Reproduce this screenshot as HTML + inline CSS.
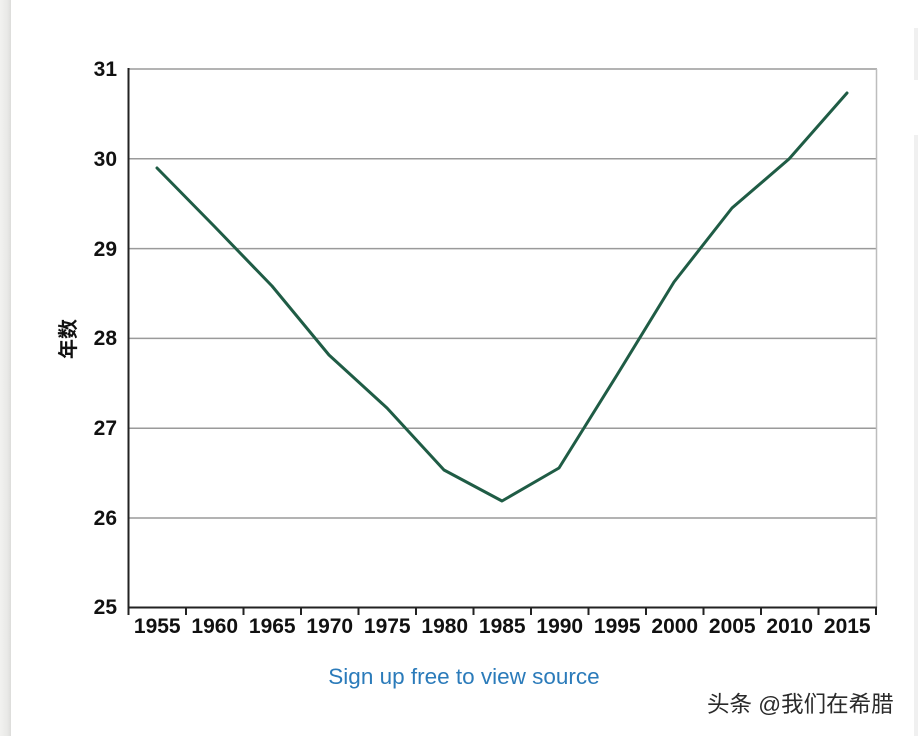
<!DOCTYPE html>
<html><head><meta charset="utf-8"><style>
html,body{margin:0;padding:0;background:#fff;}
body{width:918px;height:736px;overflow:hidden;position:relative;}
svg{position:absolute;left:0;top:0;}
</style></head><body>
<svg width="918" height="736" viewBox="0 0 918 736" xmlns="http://www.w3.org/2000/svg">
<defs>
<linearGradient id="lg" x1="0" x2="1" y1="0" y2="0">
<stop offset="0" stop-color="#f2f2f0"/><stop offset="0.7" stop-color="#e8e8e6"/><stop offset="1" stop-color="#dcdcda"/>
</linearGradient>
</defs>
<rect x="0" y="0" width="918" height="736" fill="#fff"/>
<rect x="0" y="0" width="11" height="736" fill="url(#lg)"/>
<rect x="914" y="28" width="4" height="52" fill="#f0f0f0"/>
<rect x="914" y="135" width="4" height="601" fill="#f0f0f0"/>
<!-- gridlines -->
<g stroke="#9a9a9a" stroke-width="1.5">
<line x1="128" y1="69" x2="877" y2="69"/>
<line x1="128" y1="158.8" x2="877" y2="158.8"/>
<line x1="128" y1="248.6" x2="877" y2="248.6"/>
<line x1="128" y1="338.4" x2="877" y2="338.4"/>
<line x1="128" y1="428.2" x2="877" y2="428.2"/>
<line x1="128" y1="518" x2="877" y2="518"/>
</g>
<line x1="876.5" y1="69" x2="876.5" y2="608" stroke="#bdbdbd" stroke-width="1.5"/>
<!-- axes -->
<line x1="128.5" y1="68" x2="128.5" y2="608" stroke="#222" stroke-width="2"/>
<line x1="127.5" y1="607.5" x2="877" y2="607.5" stroke="#222" stroke-width="2"/>
<g stroke="#222" stroke-width="2">
<line x1="128.5" y1="607" x2="128.5" y2="615"/>
<line x1="186" y1="607" x2="186" y2="615"/>
<line x1="243.5" y1="607" x2="243.5" y2="615"/>
<line x1="301" y1="607" x2="301" y2="615"/>
<line x1="358.5" y1="607" x2="358.5" y2="615"/>
<line x1="416" y1="607" x2="416" y2="615"/>
<line x1="473.5" y1="607" x2="473.5" y2="615"/>
<line x1="531" y1="607" x2="531" y2="615"/>
<line x1="588.5" y1="607" x2="588.5" y2="615"/>
<line x1="646" y1="607" x2="646" y2="615"/>
<line x1="703.5" y1="607" x2="703.5" y2="615"/>
<line x1="761" y1="607" x2="761" y2="615"/>
<line x1="818.5" y1="607" x2="818.5" y2="615"/>
<line x1="876" y1="607" x2="876" y2="615"/>
</g>
<!-- y labels -->
<g font-family="Liberation Sans, sans-serif" font-weight="bold" font-size="21" fill="#111" text-anchor="end">
<text x="117" y="76">31</text>
<text x="117" y="166">30</text>
<text x="117" y="256">29</text>
<text x="117" y="345">28</text>
<text x="117" y="435">27</text>
<text x="117" y="525">26</text>
<text x="117" y="614">25</text>
</g>
<!-- x labels -->
<g font-family="Liberation Sans, sans-serif" font-weight="bold" font-size="21" fill="#111" text-anchor="middle">
<text x="157.25" y="633">1955</text>
<text x="214.75" y="633">1960</text>
<text x="272.25" y="633">1965</text>
<text x="329.75" y="633">1970</text>
<text x="387.25" y="633">1975</text>
<text x="444.75" y="633">1980</text>
<text x="502.25" y="633">1985</text>
<text x="559.75" y="633">1990</text>
<text x="617.25" y="633">1995</text>
<text x="674.75" y="633">2000</text>
<text x="732.25" y="633">2005</text>
<text x="789.75" y="633">2010</text>
<text x="847.25" y="633">2015</text>
</g>
<!-- y axis title -->
<text transform="translate(75,339) rotate(-90)" text-anchor="middle" font-family="Liberation Sans, 'Noto Sans CJK SC', sans-serif" font-weight="bold" font-size="20" fill="#111">年数</text>
<!-- series -->
<polyline fill="none" stroke="#1f5c45" stroke-width="3" stroke-linejoin="round" stroke-linecap="round"
points="157,168 214,226 272,286 329,355 387,408 444,470 502,501 559,468 617,375 674,282 732,208 789,159 847,93"/>
<!-- source link -->
<text x="464" y="684" text-anchor="middle" font-family="Liberation Sans, sans-serif" font-size="22.5" fill="#2b7bba">Sign up free to view source</text>
<!-- watermark -->
<text x="708" y="713" font-family="Liberation Sans, 'Noto Sans CJK SC', sans-serif" font-size="22.5" fill="#fff" stroke="#fff" stroke-width="3" opacity="0.9">头条 @我们在希腊</text>
<text x="707" y="712" font-family="Liberation Sans, 'Noto Sans CJK SC', sans-serif" font-size="22.5" fill="#2a2a2a">头条 @我们在希腊</text>
</svg>
</body></html>
